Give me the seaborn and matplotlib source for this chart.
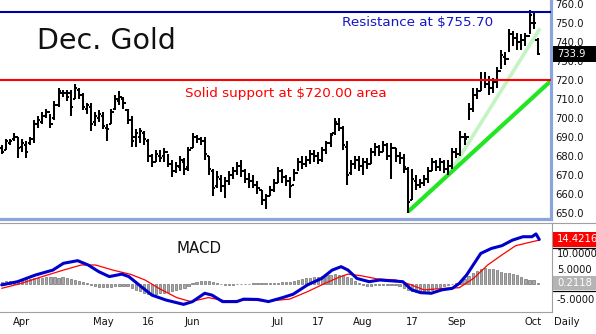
import numpy as np
import pandas as pd
import matplotlib
matplotlib.use("Agg")
import matplotlib.pyplot as plt
import seaborn as sns
from matplotlib.transforms import blended_transform_factory
from matplotlib.patches import Rectangle
from matplotlib.lines import Line2D

# ---------------- data ----------------
holidays = ["2007-04-06", "2007-05-28", "2007-07-04", "2007-09-03"]
dates = pd.bdate_range("2007-03-26", "2007-10-02")
dates = dates[~dates.isin(pd.to_datetime(holidays))]

opens = [684,683,687,689,690,685,686,687,689,697,
         698,701,703,700,707,713,713,713,710,715,
         712,705,706,698,700,701,695,697,705,709,
         710,704,699,690,690,692,688,680,677,680,
         680,682,676,672,674,677,674,684,690,689,
         688,680,672,664,668,664,667,670,672,675,
         672,668,667,665,662,657,659,662,666,672,
         669,667,665,671,677,676,678,681,680,678,
         683,687,692,697,695,685,671,676,678,675,
         677,676,682,685,682,686,680,684,680,679,
         673,657,667,665,666,668,672,677,674,677,
         673,675,682,681,690,690,705,712,714,720,
         718,716,719,725,732,731,744,742,740,741,
         743,750,741]
highs = [686,689,689,692,690,689,688,690,699,701,
         703,705,702,709,716,715,715,715,718,716,
         713,708,708,703,704,703,697,705,712,714,
         711,705,701,694,695,693,689,681,683,683,
         684,681,678,677,680,679,685,692,691,690,
         690,680,673,672,670,669,672,674,677,678,
         673,671,670,667,662,660,664,668,674,673,
         670,669,673,679,680,680,683,683,682,685,
         688,692,700,700,696,688,678,680,680,679,
         679,684,687,686,688,687,687,684,682,681,
         674,673,670,668,670,674,679,678,679,678,
         678,684,684,693,692,708,716,716,724,724,
         722,721,727,736,735,747,746,745,744,745,
         757,756,742]
lows = [681,683,686,688,679,682,679,686,687,695,
        697,700,695,699,706,711,709,701,710,710,
        704,702,693,696,698,694,688,697,704,707,
        705,697,685,685,687,686,677,674,677,677,
        677,674,669,671,672,670,672,684,687,686,
        678,670,659,663,661,658,665,668,670,669,
        666,663,663,660,654,652,659,661,666,666,
        664,658,667,672,673,674,676,677,676,677,
        681,685,691,693,683,665,670,673,672,670,
        673,676,680,680,682,678,668,677,676,671,
        650,657,662,663,664,666,672,672,672,671,
        670,673,679,680,686,699,703,710,714,716,
        712,713,716,726,728,735,738,736,736,738,
        744,747,733]
closes = [682,688,688,690,684,687,682,689,697,699,
          701,703,697,707,714,713,711,706,716,712,
          706,707,697,701,702,696,694,703,710,711,
          708,699,688,692,693,689,680,677,681,679,
          682,676,672,675,678,673,683,690,689,688,
          681,673,663,669,664,667,670,672,675,672,
          668,667,665,663,657,659,662,666,672,669,
          667,664,671,677,676,678,681,680,678,683,
          687,691,698,695,686,670,676,678,675,677,
          676,682,685,682,686,680,684,680,679,674,
          656,668,665,666,668,672,677,674,677,673,
          675,682,681,690,689,705,712,714,720,718,
          716,719,725,733,731,744,742,740,741,743,
          754,750,733.9]

support_level = 720.00
resistance_level = 755.70
last_price = 733.9

# trend lines (bar position, price)
fast_trend_x = [110.8, 132.6]
fast_trend_y = [672.6, 747.2]
slow_trend_x = [100.1, 136.0]
slow_trend_y = [650.7, 721.0]

# MACD (bar position, value)
macd_x = [0, 3.9, 8.3, 12.6, 15.2, 18.7, 21.3, 23.9, 26.5, 29.6,
          31.3, 34.4, 37.0, 40.5, 44.8, 47.0, 50.0, 51.8, 54.4, 57.9,
          59.6, 63.1, 65.7, 69.2, 71.8, 75.3, 78.8, 81.4, 83.6, 85.3,
          87.5, 90.5, 93.1, 96.2, 98.8, 101.0, 103.2, 105.8, 108.4, 111.0,
          112.7, 114.5, 118.0, 120.6, 123.2, 125.8, 128.4, 130.6, 131.6, 132.4]
macd_v = [-0.3, 0.75, 2.9, 4.5, 6.7, 7.55, 6.15, 4.0, 2.4, 3.2,
          2.4, -0.9, -3.6, -5.2, -6.6, -5.7, -3.0, -3.6, -5.7, -5.7,
          -4.9, -5.0, -5.7, -4.4, -3.3, -0.3, 1.8, 4.5, 5.6, 4.5,
          1.8, 0.75, 1.3, 1.0, 0.75, -1.9, -2.8, -3.0, -1.9, -1.4,
          0.2, 2.9, 9.9, 11.5, 12.4, 14.2, 15.3, 15.3, 16.2, 14.42]
signal_x = [0, 4.8, 10.0, 15.2, 19.6, 23.1, 27.4, 31.8, 35.3, 38.7,
            43.1, 46.6, 50.9, 55.3, 60.5, 65.7, 70.9, 75.3, 79.6, 83.1,
            85.3, 88.4, 92.7, 97.1, 100.5, 104.0, 109.2, 112.7, 116.2, 119.7,
            123.2, 126.6, 130.1, 132.4]
signal_v = [-1.4, 0.2, 2.4, 4.5, 6.15, 6.15, 4.5, 3.1, 1.3, -1.4,
            -4.4, -5.7, -4.4, -5.5, -5.2, -5.5, -4.9, -2.5, 0.2, 2.2,
            3.2, 2.7, 1.6, 1.3, -0.1, -1.9, -1.4, -1.2, 1.8, 6.15,
            9.4, 12.4, 13.5, 14.2]
hist_v = [0.8,0.9,1.0,0.9,1.0,
          1.3,1.5,1.6,1.8,2.0,2.1,2.2,2.3,2.2,2.1,2.2,2.0,
          1.6,1.2,0.9,0.6,0.3,
          -0.3,-0.6,-0.9,-1.0,-1.0,
          -0.9,-0.7,-0.6,-0.5,-0.7,
          -1.2,-1.8,-2.4,-2.9,-3.2,-3.3,-3.2,-3.0,-2.8,-2.5,
          -2.2,-1.9,-1.6,-1.2,-0.8,
          0.2,0.6,0.9,1.0,0.9,0.6,
          0.2,-0.1,-0.3,-0.3,-0.2,-0.1,0.0,0.1,0.1,
          0.2,0.3,0.3,0.2,0.2,0.3,0.4,0.5,0.6,0.8,1.0,1.2,
          1.5,1.8,2.0,2.2,2.4,2.6,2.8,3.0,3.1,3.0,2.8,
          2.4,1.8,1.0,
          0.2,-0.4,-0.6,-0.5,-0.4,-0.3,
          -0.3,-0.2,-0.3,-0.4,-0.6,-1.2,-1.8,
          -2.4,-2.7,-2.8,-2.6,-2.3,-1.9,-1.4,
          -1.0,-0.6,-0.3,0.0,0.3,0.8,
          1.6,2.5,3.4,4.2,4.8,5.1,
          5.0,4.8,4.5,
          4.0,3.7,3.5,3.2,3.0,
          2.2,1.6,1.2,1.3,0.2]
macd_last = 14.4216
hist_last = 0.2118

price_ticks = list(range(650, 761, 10))
macd_ticks = [-5, 0, 5, 10, 15]
tick_dates = ["2007-04-02", "2007-05-01", "2007-05-16", "2007-06-01", "2007-07-02",
              "2007-07-17", "2007-08-01", "2007-08-17", "2007-09-04", "2007-10-01"]
tick_labels = ["Apr", "May", "16", "Jun", "Jul", "17", "Aug", "17", "Sep", "Oct"]

n = len(dates)
assert n == len(opens) == len(highs) == len(lows) == len(closes) == len(hist_v)

# ---------------- figure ----------------
sns.set_style("white")
plt.rcParams["font.family"] = ["DejaVu Sans"]

W, H = 596, 334
fig = plt.figure(figsize=(W / 100, H / 100), dpi=100)
fig.patch.set_facecolor("white")

def fx(px):
    return px / W

def fy(py):
    return 1 - py / H

PX_PER_BAR = 4.06
X0 = 1.7
def bar_at(px):
    return (px - X0) / PX_PER_BAR

ax1 = fig.add_axes([0, fy(218.5), fx(550.5), 218.5 / H])
ax2 = fig.add_axes([0, fy(312), fx(552), 89 / H])

idx = np.arange(n)
o = np.array(opens, float); h = np.array(highs, float)
l = np.array(lows, float); c = np.array(closes, float)

# trend lines (under the bars)
ax1.plot(fast_trend_x, fast_trend_y, color="#c4f4c4", lw=2.6, solid_capstyle="butt", zorder=2)
ax1.plot(slow_trend_x, slow_trend_y, color="#22e622", lw=3.0, solid_capstyle="butt", zorder=2)

# OHLC bars
ax1.vlines(idx, l, h, color="black", lw=1.45, zorder=3)
ax1.hlines(o, idx - 0.55, idx, color="black", lw=1.45, zorder=3)
ax1.hlines(c, idx, idx + 0.55, color="black", lw=1.45, zorder=3)

ax1.axhline(support_level, color="#ff0000", lw=1.5, zorder=4)
ax1.axhline(resistance_level, color="#0000a8", lw=1.5, zorder=4)

ax1.text(37 / 550.5, 1 - 49 / 218.5, "Dec. Gold", transform=ax1.transAxes,
         fontsize=20.5, color="#111111", ha="left", va="baseline")
ax1.text(342 / 550.5, 1 - 25.7 / 218.5, "Resistance at $755.70", transform=ax1.transAxes,
         fontsize=9.7, color="#1515c8", ha="left", va="baseline")
ax1.text(185 / 550.5, 1 - 97.3 / 218.5, "Solid support at $720.00 area", transform=ax1.transAxes,
         fontsize=9.7, color="#ff0000", ha="left", va="baseline")

top_px = 0
ymax1 = 760 + 4 / 1.9
ymin1 = ymax1 - 218.5 / 1.9
ax1.set_ylim(ymin1, ymax1)
ax1.set_xlim(bar_at(0), bar_at(550.5))
ax1.set_xticks([])
ax1.yaxis.tick_right()
ax1.set_yticks(price_ticks)
ax1.set_yticklabels([f"{v:.1f}" for v in price_ticks])
ax1.tick_params(axis="y", length=0, pad=3.6, labelsize=7.2, labelcolor="#111111")
for s in ["top", "left"]:
    ax1.spines[s].set_visible(False)
for s in ["right", "bottom"]:
    ax1.spines[s].set_color("#8ca4dc")
    ax1.spines[s].set_linewidth(2.3)

blend1 = blended_transform_factory(fig.transFigure, ax1.transData)
box_h = 16 / 1.9
ax1.add_patch(Rectangle((fx(552.5), last_price - box_h / 2), 1 - fx(552.5), box_h,
                        transform=blend1, facecolor="black", edgecolor="none",
                        clip_on=False, zorder=6))
ax1.text(fx(557), last_price, f"{last_price:.1f}", transform=blend1, color="white",
         fontsize=7.2, ha="left", va="center", clip_on=False, zorder=7)

# ---------------- MACD panel ----------------
ax2.bar(idx, hist_v, width=0.55, color="#a8a8a8", edgecolor="#707070", linewidth=0.5, zorder=2)
sns.lineplot(x=signal_x, y=signal_v, ax=ax2, color="#ff0000", linewidth=0.9, sort=False, zorder=3)
sns.lineplot(x=macd_x, y=macd_v, ax=ax2, color="#0000cc", linewidth=2.2, sort=False, zorder=4)

ax2.text(176.7 / 552, (312 - 253) / 89, "MACD", transform=ax2.transAxes,
         fontsize=10.8, color="#111111", ha="left", va="baseline")

ppu = 3.09
ymax2 = (284 - 223) / ppu
ymin2 = (284 - 312) / ppu
ax2.set_ylim(ymin2, ymax2)
ax2.set_xlim(bar_at(0), bar_at(552))
ax2.yaxis.tick_right()
ax2.set_yticks(macd_ticks)
ax2.set_yticklabels([f"{v:.4f}" for v in macd_ticks])
ax2.tick_params(axis="y", length=0, pad=3.6, labelsize=7.2, labelcolor="#111111")
tick_pos = [dates.get_loc(pd.Timestamp(d)) for d in tick_dates]
ax2.set_xticks(tick_pos)
ax2.set_xticklabels(tick_labels)
ax2.tick_params(axis="x", length=0, pad=3.5, labelsize=7.2, labelcolor="#111111")
ax2.set_xlabel(""); ax2.set_ylabel("")
ax2.spines["left"].set_visible(False)
for s in ["top", "bottom", "right"]:
    ax2.spines[s].set_color("#a0a0a0")
    ax2.spines[s].set_linewidth(0.8)

blend2 = blended_transform_factory(fig.transFigure, ax2.transData)
rb = 15 / ppu
ax2.add_patch(Rectangle((fx(553), macd_last - rb / 2), 1 - fx(553), rb, transform=blend2,
                        facecolor="#ff0000", edgecolor="none", clip_on=False, zorder=6))
ax2.text(fx(557), macd_last, f"{macd_last:.4f}", transform=blend2, color="white",
         fontsize=7.2, ha="left", va="center", clip_on=False, zorder=7)
gb = 14 / ppu
ax2.add_patch(Rectangle((fx(553), hist_last - gb / 2), 1 - fx(553), gb, transform=blend2,
                        facecolor="#b4b4b4", edgecolor="none", clip_on=False, zorder=6))
ax2.text(fx(557), hist_last, f"{hist_last:.4f}", transform=blend2, color="white",
         fontsize=7.2, ha="left", va="center", clip_on=False, zorder=7)
ax2.add_line(Line2D([fx(553), 1], [macd_last - rb / 2 - 0.2] * 2, transform=blend2,
                    color="black", lw=0.9, clip_on=False, zorder=7))
ax2.add_line(Line2D([fx(553), 1], [hist_last - gb / 2 - 0.35] * 2, transform=blend2,
                    color="black", lw=0.9, clip_on=False, zorder=7))

fig.add_artist(Line2D([fx(552), 1], [fy(223), fy(223)], transform=fig.transFigure,
                      color="#a0a0a0", lw=0.8))
fig.text(fx(567), fy(322), "Daily", fontsize=7.2, color="#111111", ha="center", va="center")

fig.savefig("out.png", dpi=100, facecolor="white")
